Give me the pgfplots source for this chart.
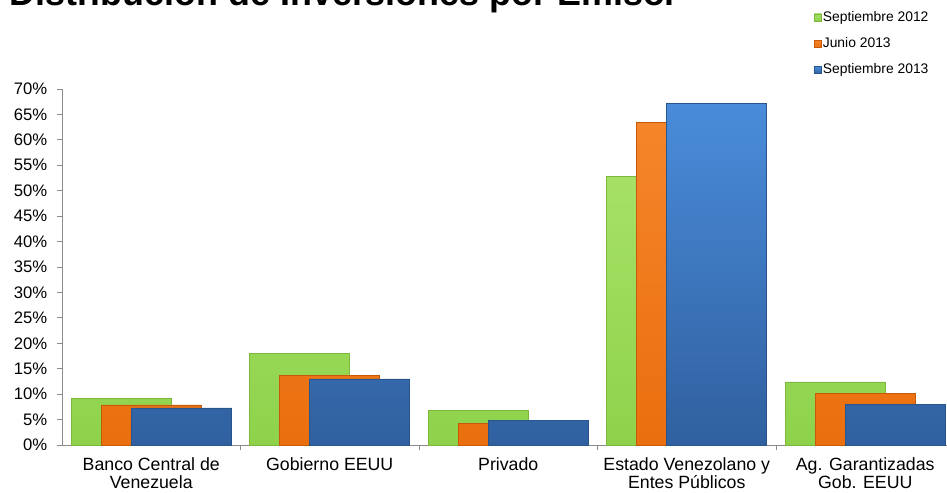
\documentclass[border=0pt]{standalone}
\usepackage{pgfplots}
\pgfplotsset{compat=1.18}
\usepackage{fontspec}
\setmainfont{Liberation Sans}
\definecolor{gTop}{HTML}{A6E166}
\definecolor{gBot}{HTML}{8ED24B}
\definecolor{gEdge}{HTML}{7DB83C}
\definecolor{oTop}{HTML}{F5852A}
\definecolor{oBot}{HTML}{EA6F0E}
\definecolor{oEdge}{HTML}{C65A08}
\definecolor{bTop}{HTML}{4A8CDA}
\definecolor{bBot}{HTML}{30609F}
\definecolor{bEdge}{HTML}{2A548C}
\definecolor{axgray}{HTML}{8A8A8A}
\begin{document}
\begin{tikzpicture}
\begin{axis}[
  at={(0pt,0pt)}, anchor=south west,
  scale only axis,
  width=669.375pt, height=267pt,
  xmin=-0.5, xmax=4.5, ymin=0, ymax=70,
  axis lines*=left,
  axis line style={axgray, line width=0.7pt},
  tick align=outside,
  major tick length=3.75pt,
  ytick={0,5,...,70},
  yticklabel={\pgfmathprintnumber{\tick}\%},
  ytick style={axgray, line width=0.7pt},
  /pgf/number format/assume math mode=true,
  yticklabel style={font=\fontsize{12.5}{15}\selectfont, xshift=-3.75pt},
  xtick={0,1,2,3,4},
  xticklabels={Banco Central de\\Venezuela, Gobierno EEUU, Privado, Estado Venezolano y\\Entes Públicos, Ag. Garantizadas\\Gob. EEUU},
  xticklabel style={align=center, font=\fontsize{13.3}{14}\selectfont, yshift=-2pt},
  xtick style={draw=none},
  extra x ticks={0.5,1.5,2.5,3.5},
  extra x tick labels={},
  extra x tick style={xtick style={draw=axgray, line width=0.7pt}},
  legend style={at={(0.838,1.23)}, anchor=north west, draw=none, fill=none,
    font=\fontsize{10.4}{12}\selectfont, row sep=8.6pt,
    nodes={inner sep=1pt}},
  legend cell align=left,
]
\addplot[ybar, bar width=75pt, bar shift=-22.5pt, top color=gTop, bottom color=gBot, draw=gEdge, line width=0.4pt,
  legend image code/.code={\fill[top color=gTop, bottom color=gBot, draw=gEdge, line width=0.3pt] (0pt,-2.6pt) rectangle (5.2pt,2.6pt);}]
  coordinates {(0,9.1) (1,18.0) (2,6.8) (3,52.8) (4,12.4)};
\addplot[ybar, bar width=75pt, bar shift=0pt, top color=oTop, bottom color=oBot, draw=oEdge, line width=0.4pt,
  legend image code/.code={\fill[top color=oTop, bottom color=oBot, draw=oEdge, line width=0.3pt] (0pt,-2.6pt) rectangle (5.2pt,2.6pt);}]
  coordinates {(0,7.9) (1,13.7) (2,4.3) (3,63.5) (4,10.1)};
\addplot[ybar, bar width=75pt, bar shift=22.5pt, top color=bTop, bottom color=bBot, draw=bEdge, line width=0.4pt,
  legend image code/.code={\fill[top color=bTop, bottom color=bBot, draw=bEdge, line width=0.3pt] (0pt,-2.6pt) rectangle (5.2pt,2.6pt);}]
  coordinates {(0,7.3) (1,13.0) (2,4.8) (3,67.2) (4,8.0)};
\legend{Septiembre 2012, Junio 2013, Septiembre 2013}
\end{axis}
\node[anchor=base west, inner sep=0pt, font=\bfseries\fontsize{26.9}{30}\selectfont] at (-39.75pt,329.6pt) {Distribución de Inversiones por Emisor};
\pgfresetboundingbox
\useasboundingbox (-46.5pt,-36pt) rectangle (663.75pt,333.75pt);
\end{tikzpicture}
\end{document}
